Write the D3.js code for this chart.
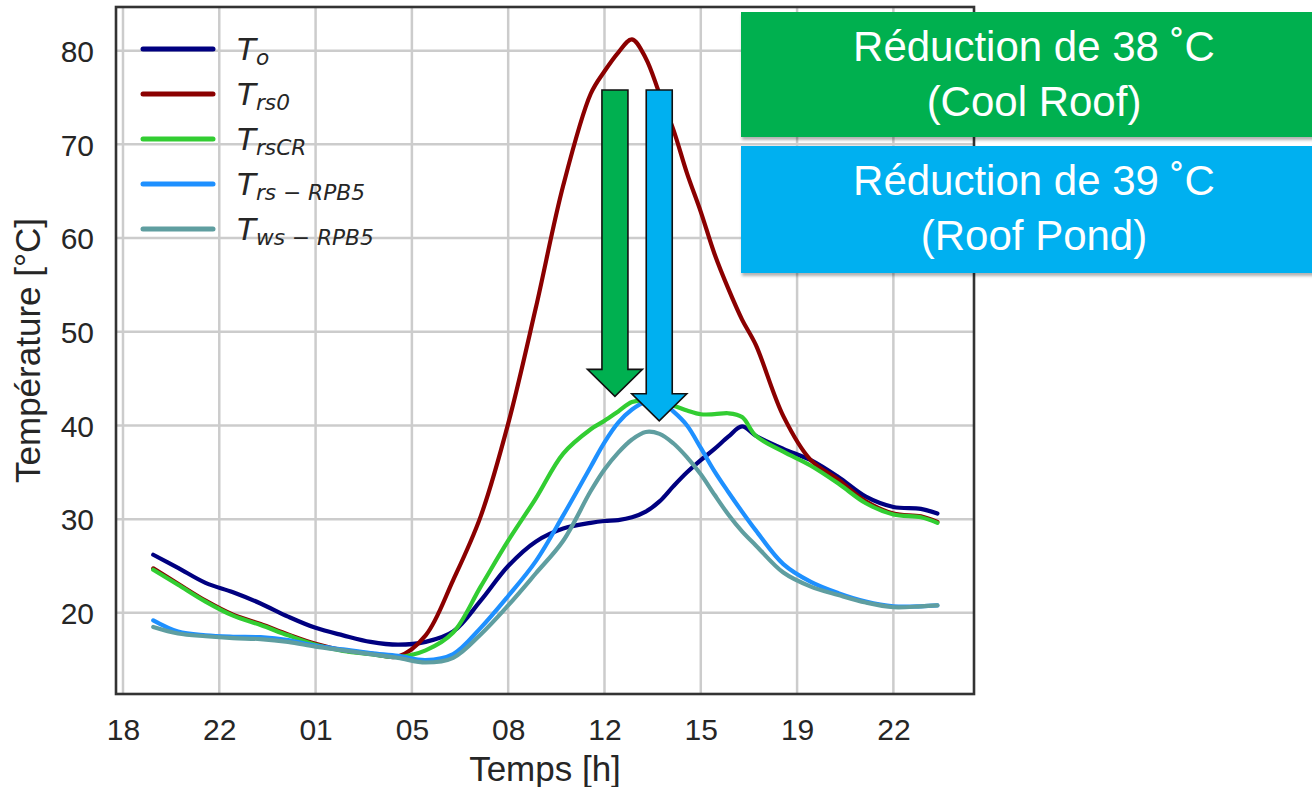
<!DOCTYPE html>
<html><head><meta charset="utf-8">
<script src="https://cdn.jsdelivr.net/npm/d3@7"></script>
<style>body{margin:0;background:#fff;} svg{display:block;}</style>
</head><body><svg id="chart" width="1312" height="787"></svg>
<script>
// ---- data ----
const hours = [1.1,2,3,4,5,6,7,8,9,10,11,12,13,14,15,16,17,17.5,18,18.5,19,19.5,20,20.5,21,21.5,22,22.5,23,24,25,26,27,28,29,29.6];
const T_o      = [26.2,24.8,23.2,22.2,21.0,19.6,18.4,17.6,16.9,16.6,16.9,18.0,21.3,25.0,27.6,29.0,29.6,29.8,29.9,30.2,30.8,31.9,33.5,35.0,36.3,37.5,38.8,39.9,38.9,37.5,36.3,34.5,32.4,31.3,31.1,30.6];
const T_rs0    = [24.75,23.1,21.3,19.8,18.8,17.7,16.7,16.0,15.65,15.35,17.6,23.5,30.3,40.2,52.5,65.6,75.4,77.8,79.8,81.2,79.2,75.4,71.6,66.9,62.8,58.3,54.6,51.3,48.6,41.0,36.3,34.2,31.9,30.6,30.3,29.7];
const T_rsCR   = [24.6,23.0,21.2,19.7,18.7,17.6,16.6,15.95,15.6,15.3,16.0,17.9,22.8,27.7,32.2,37.0,39.6,40.5,41.5,42.5,42.6,42.3,42.1,41.6,41.2,41.2,41.3,40.9,38.9,37.2,35.7,33.8,31.7,30.5,30.2,29.6];
const T_rsRPB5 = [19.2,18.0,17.6,17.45,17.4,17.1,16.5,16.1,15.7,15.4,14.95,15.6,18.4,21.8,25.5,30.4,35.6,38.2,40.3,41.7,42.5,42.6,41.5,40.0,37.6,35.1,32.9,30.8,28.8,25.2,23.3,22.1,21.2,20.7,20.7,20.8];
const T_wsRPB5 = [18.5,17.8,17.5,17.3,17.2,16.9,16.4,16.0,15.6,15.2,14.7,15.2,17.7,20.8,24.2,27.7,33.0,35.3,37.1,38.5,39.3,39.1,38.1,36.6,34.8,32.6,30.5,28.7,27.2,24.3,22.8,21.9,21.1,20.6,20.7,20.8];
const seriesSubs = ["o","rs0","rsCR","rs − RPB5","ws − RPB5"];
const seriesColors = ["#000080","#8B0000","#32CD32","#1E90FF","#5F9EA0"];
const seriesValues = [T_o, T_rs0, T_rsCR, T_rsRPB5, T_wsRPB5];
const xTickHours = [0,3.5,7,10.5,14,17.5,21,24.5,28];
const xTickLabels = ["18","22","01","05","08","12","15","19","22"];
const yTicks = [20,30,40,50,60,70,80];
const arrowHours = [17.88, 19.49];
const arrowFrom = [75.8, 75.8];
const arrowTo = [43.1, 40.5];
const arrowColors = ["#00B050","#00B0F0"];
const boxLines = [["Réduction de 38 ˚C","(Cool Roof)"],["Réduction de 39 ˚C","(Roof Pond)"]];
const boxColors = ["#00B050","#00B0F0"];

// ---- layout ----
const L = 116, R = 974, T = 7, B = 694;
const x = d3.scaleLinear().domain([-0.254, 30.93]).range([L, R]);
const y = d3.scaleLinear().domain([11.34, 84.66]).range([B, T]);
const svg = d3.select("#chart");
const font = "'Liberation Sans', Arial, sans-serif";

svg.append("rect").attr("width",1312).attr("height",787).attr("fill","#fff");

const defs = svg.append("defs");
const f = defs.append("filter").attr("id","sh").attr("x","-5%").attr("y","-10%").attr("width","115%").attr("height","130%");
f.append("feDropShadow").attr("dx",1).attr("dy",3).attr("stdDeviation",1.8).attr("flood-color","#000").attr("flood-opacity",0.3);

// gridlines
const grid = svg.append("g").attr("stroke","#cccccc").attr("stroke-width",2.5);
grid.selectAll("line.v").data(xTickHours).join("line")
  .attr("x1",d=>x(d)).attr("x2",d=>x(d)).attr("y1",T).attr("y2",B);
grid.selectAll("line.h").data(yTicks).join("line")
  .attr("y1",d=>y(d)).attr("y2",d=>y(d)).attr("x1",L).attr("x2",R);

// axes via d3
const xAxis = d3.axisBottom(x).tickValues(xTickHours).tickFormat((d,i)=>xTickLabels[i]).tickSize(0).tickPadding(0);
const gx = svg.append("g").attr("transform",`translate(0,${B})`).call(xAxis);
gx.select(".domain").remove();
gx.selectAll("text").attr("font-family",font).attr("font-size",30).attr("fill","#262626")
  .attr("dy",null).attr("y",46);

const yAxis = d3.axisLeft(y).tickValues(yTicks).tickFormat(d3.format("d")).tickSize(0).tickPadding(0);
const gy = svg.append("g").attr("transform",`translate(${L},0)`).call(yAxis);
gy.select(".domain").remove();
gy.selectAll("text").attr("font-family",font).attr("font-size",30).attr("fill","#262626")
  .attr("x",-22).attr("dy",null).attr("y",10.8);

// series
const line = d3.line().x((d,i)=>x(hours[i])).y(d=>y(d)).curve(d3.curveCatmullRom.alpha(0.5));
svg.append("g").selectAll("path").data(seriesValues).join("path")
  .attr("d",d=>line(d)).attr("fill","none")
  .attr("stroke",(d,i)=>seriesColors[i]).attr("stroke-width",4.2)
  .attr("stroke-linecap","round").attr("stroke-linejoin","round");

// frame
svg.append("rect").attr("x",L).attr("y",T).attr("width",R-L).attr("height",B-T)
  .attr("fill","none").attr("stroke","#333333").attr("stroke-width",2.6);

// legend
const lg = svg.append("g");
seriesSubs.forEach((s,i)=>{
  const ly = 49 + i*45;
  lg.append("line").attr("x1",143).attr("x2",213).attr("y1",ly).attr("y2",ly)
    .attr("stroke",seriesColors[i]).attr("stroke-width",5).attr("stroke-linecap","round");
  const t = lg.append("text").attr("x",237).attr("y",ly+11)
    .attr("font-family","'DejaVu Sans', sans-serif").attr("font-style","italic")
    .attr("font-size",31).attr("fill","#262626");
  t.append("tspan").text("T");
  t.append("tspan").attr("dy",5).attr("font-size",21.7).text(s);
});

// axis titles
svg.append("text").attr("x",(L+R)/2).attr("y",781).attr("text-anchor","middle")
  .attr("font-family",font).attr("font-size",35).attr("fill","#262626").text("Temps [h]");
svg.append("text").attr("transform",`translate(40,${(T+B)/2}) rotate(-90)`).attr("text-anchor","middle")
  .attr("font-family",font).attr("font-size",35).attr("fill","#262626").text("Température [°C]");

// arrows
const shaftHalf = 13, headHalf = 27.5, headLen = 27;
arrowHours.forEach((h,i)=>{
  const cx = x(h), y0 = y(arrowFrom[i]), y1 = y(arrowTo[i]);
  const ys = y1 - headLen;
  const pts = [[cx-shaftHalf,y0],[cx+shaftHalf,y0],[cx+shaftHalf,ys],[cx+headHalf,ys],[cx,y1],[cx-headHalf,ys],[cx-shaftHalf,ys]];
  svg.append("path").attr("d","M"+pts.map(p=>p.join(",")).join("L")+"Z")
    .attr("fill",arrowColors[i]).attr("stroke","#111").attr("stroke-width",1.6).attr("stroke-linejoin","miter");
});

// boxes
const boxTop = [12,146], boxH = [125,127];
boxLines.forEach((lines,i)=>{
  svg.append("rect").attr("x",741).attr("y",boxTop[i]).attr("width",600).attr("height",boxH[i])
    .attr("fill",boxColors[i]).attr("filter","url(#sh)");
  lines.forEach((ln,j)=>{
    svg.append("text").attr("x",1034).attr("y",boxTop[i]+49+j*54.5).attr("text-anchor","middle")
      .attr("font-family",font).attr("font-size",42).attr("fill","#fff").text(ln);
  });
});
</script></body></html>
